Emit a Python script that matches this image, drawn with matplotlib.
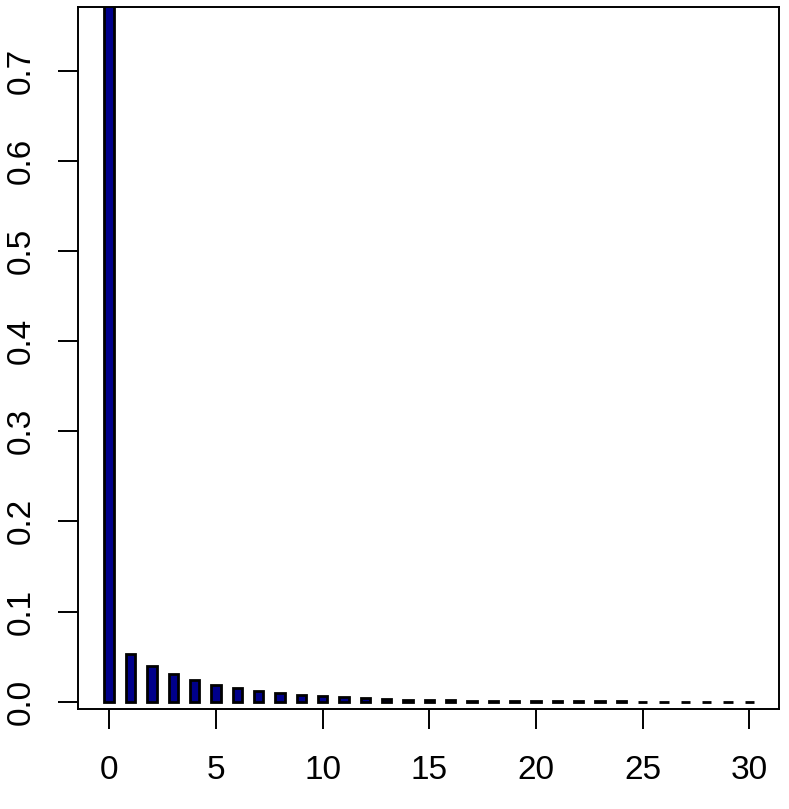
import numpy as np
import matplotlib
matplotlib.use("Agg")
import matplotlib.pyplot as plt

plt.rcParams['font.family'] = ['Liberation Sans', 'DejaVu Sans']

# values (bar 0 runs past the top of the plot)
k = list(range(31))
prob = [0.82, 0.053, 0.040, 0.031, 0.024, 0.019, 0.015, 0.012, 0.0095, 0.0073,
        0.0058, 0.0047, 0.0038, 0.0030, 0.0024, 0.0019, 0.0015, 0.0012, 0.0010,
        0.0008, 0.0006, 0.0005, 0.0004, 0.0003, 0.00025, 0.0002, 0.00015,
        0.00012, 0.0001, 0.00008, 0.00006]
xticks = [0, 5, 10, 15, 20, 25, 30]
yticks = [0.0, 0.1, 0.2, 0.3, 0.4, 0.5, 0.6, 0.7]

W, H = 789, 809
fig = plt.figure(figsize=(W / 100, H / 100), dpi=100)
ax = fig.add_axes([78 / W, 1 - 709 / H, (779 - 78) / W, (709 - 7) / H])

ax.bar(k, prob, width=0.45, color="#00008B", edgecolor="black", linewidth=2.0)

ax.set_xlim(-1.467, 31.39)
ax.set_ylim(-0.0081, 0.7707)

ax.set_xticks(xticks)
ax.set_xticklabels([str(t) for t in xticks])
ax.set_yticks(yticks)
ax.set_yticklabels([f"{t:.1f}" for t in yticks], rotation=90, va="center")

ax.tick_params(axis="both", direction="out", length=14.4, width=1.4,
               labelsize=24, color="black")
ax.tick_params(axis="x", pad=19)
ax.tick_params(axis="y", pad=15)

for s in ax.spines.values():
    s.set_linewidth(1.4)

fig.savefig("out.png", dpi=100)
